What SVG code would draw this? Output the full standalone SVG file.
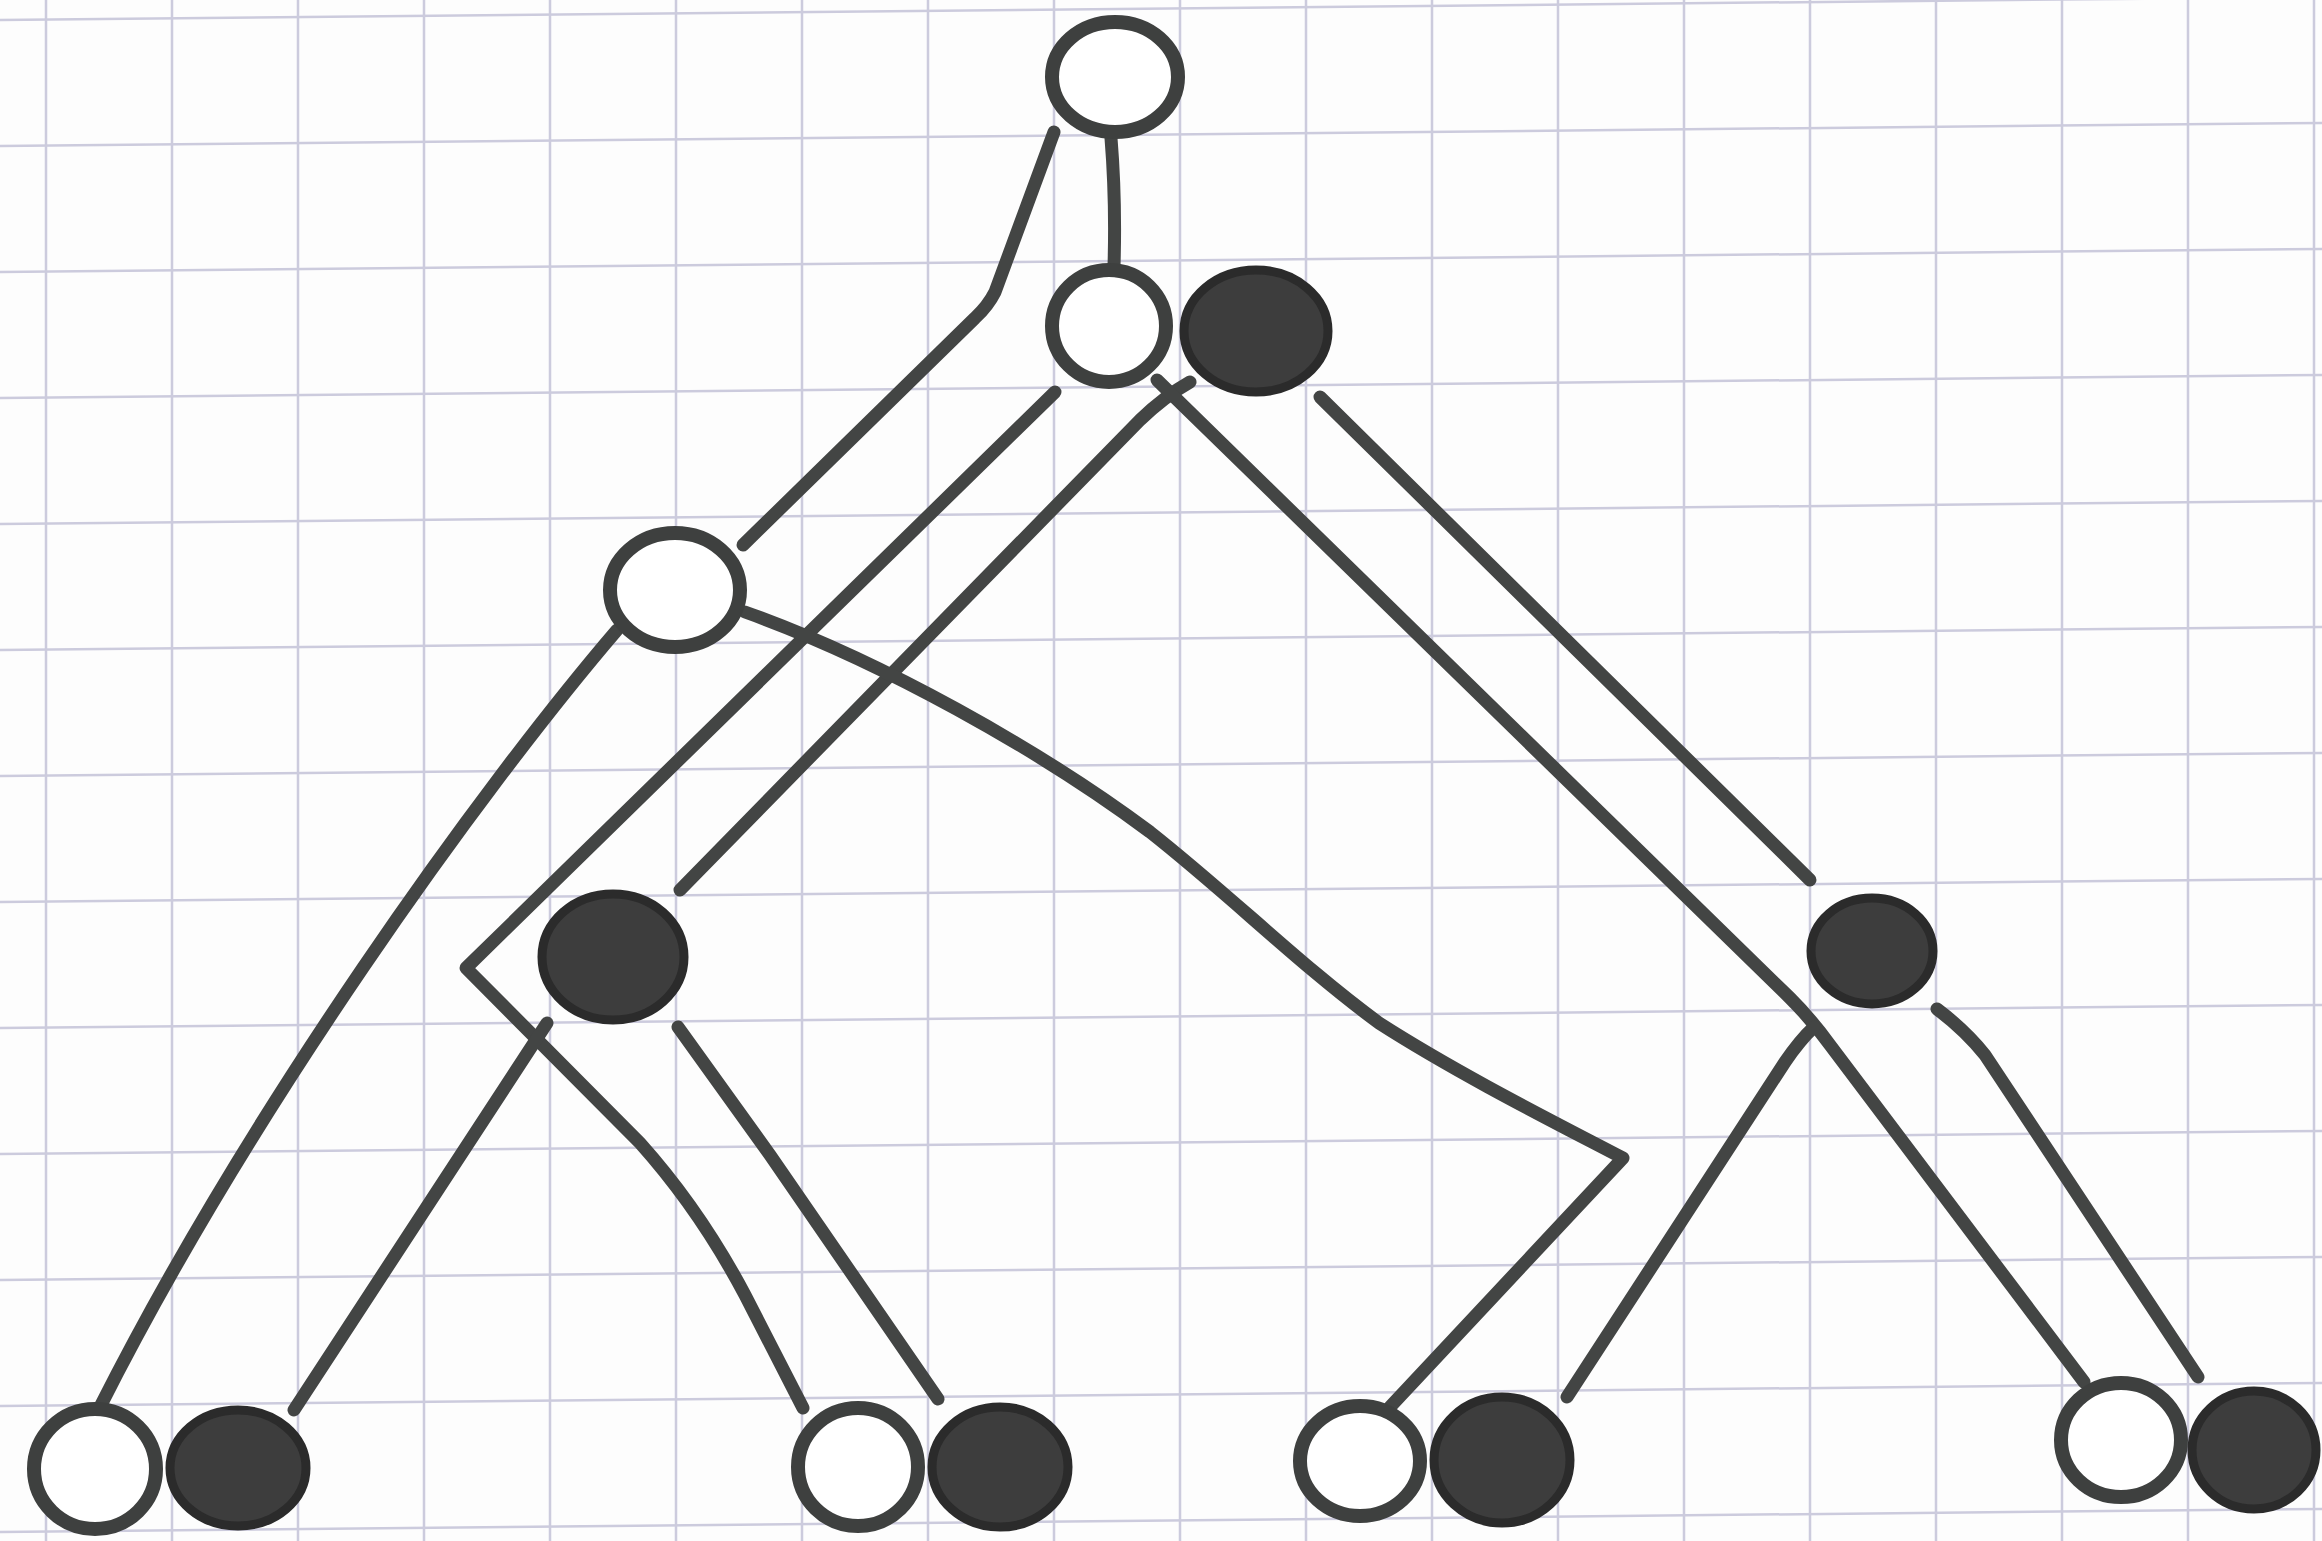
<svg xmlns="http://www.w3.org/2000/svg" width="2322" height="1541" viewBox="0 0 2322 1541">
<style>
.grid line{stroke:#cccbdd;stroke-width:2.5}
.edge{fill:none;stroke:#434544;stroke-width:13;stroke-linecap:round;stroke-linejoin:round}
.w{fill:#ffffff;stroke:#3e403f;stroke-width:14}
.b{fill:#3d3d3d;stroke:#2b2b2b;stroke-width:9}
</style>
<rect x="0" y="0" width="2322" height="1541" fill="#fdfdfd"/>
<g class="grid">
<line x1="46" y1="0" x2="46" y2="1541"/><line x1="172" y1="0" x2="172" y2="1541"/><line x1="298" y1="0" x2="298" y2="1541"/><line x1="424" y1="0" x2="424" y2="1541"/><line x1="550" y1="0" x2="550" y2="1541"/><line x1="676" y1="0" x2="676" y2="1541"/><line x1="802" y1="0" x2="802" y2="1541"/><line x1="928" y1="0" x2="928" y2="1541"/><line x1="1054" y1="0" x2="1054" y2="1541"/><line x1="1180" y1="0" x2="1180" y2="1541"/><line x1="1306" y1="0" x2="1306" y2="1541"/><line x1="1432" y1="0" x2="1432" y2="1541"/><line x1="1558" y1="0" x2="1558" y2="1541"/><line x1="1684" y1="0" x2="1684" y2="1541"/><line x1="1810" y1="0" x2="1810" y2="1541"/><line x1="1936" y1="0" x2="1936" y2="1541"/><line x1="2062" y1="0" x2="2062" y2="1541"/><line x1="2188" y1="0" x2="2188" y2="1541"/><line x1="2314" y1="0" x2="2314" y2="1541"/>
<line x1="0" y1="20" x2="2322" y2="-3"/><line x1="0" y1="146" x2="2322" y2="123"/><line x1="0" y1="272" x2="2322" y2="249"/><line x1="0" y1="398" x2="2322" y2="375"/><line x1="0" y1="524" x2="2322" y2="501"/><line x1="0" y1="650" x2="2322" y2="627"/><line x1="0" y1="776" x2="2322" y2="753"/><line x1="0" y1="902" x2="2322" y2="879"/><line x1="0" y1="1028" x2="2322" y2="1005"/><line x1="0" y1="1154" x2="2322" y2="1131"/><line x1="0" y1="1280" x2="2322" y2="1257"/><line x1="0" y1="1406" x2="2322" y2="1383"/><line x1="0" y1="1532" x2="2322" y2="1509"/>
</g>
<g id="connectors">
<path class="edge" d="M1054,132 L995,292 Q988,306 975,318 L743,545"/>
<path class="edge" d="M1111,138 Q1116,200 1114,266"/>
<path class="edge" d="M1055,392 L466,968 L640,1143 Q700,1210 745,1295 L803,1408"/>
<path class="edge" d="M1190,382 Q1165,396 1140,420 L680,890"/>
<path class="edge" d="M1157,380 L1790,998 Q1812,1020 1830,1045 L2084,1382"/>
<path class="edge" d="M1320,397 L1810,880"/>
<path class="edge" d="M617,630 C480,790 250,1110 100,1407"/>
<path class="edge" d="M745,612 C880,660 1040,750 1150,832 C1230,895 1300,965 1379,1023 C1460,1075 1560,1125 1623,1158 L1390,1407"/>
<path class="edge" d="M547,1023 L294,1410"/>
<path class="edge" d="M678,1027 L770,1155 L938,1399"/>
<path class="edge" d="M1814,1027 Q1800,1040 1785,1062 L1567,1397"/>
<path class="edge" d="M1937,1009 Q1965,1030 1985,1055 L2198,1377"/>
</g>
<g id="n_top"><ellipse class="w" cx="1115" cy="77" rx="63" ry="55"/></g>
<g id="n_w2"><ellipse class="w" cx="1109" cy="326" rx="57" ry="56"/></g>
<g id="n_b2"><ellipse class="b" cx="1256" cy="331" rx="72" ry="61"/></g>
<g id="n_w3"><ellipse class="w" cx="675" cy="590" rx="65" ry="57"/></g>
<g id="n_b3"><ellipse class="b" cx="613" cy="957" rx="71" ry="63"/></g>
<g id="n_b4"><ellipse class="b" cx="1872" cy="951" rx="61" ry="53"/></g>
<g id="n_w5"><ellipse class="w" cx="95" cy="1469" rx="61" ry="60"/></g>
<g id="n_b5"><ellipse class="b" cx="238" cy="1468" rx="68" ry="58"/></g>
<g id="n_w6"><ellipse class="w" cx="858" cy="1467" rx="60" ry="59"/></g>
<g id="n_b6"><ellipse class="b" cx="1000" cy="1467" rx="68" ry="60"/></g>
<g id="n_w7"><ellipse class="w" cx="1360" cy="1461" rx="60" ry="55"/></g>
<g id="n_b7"><ellipse class="b" cx="1502" cy="1460" rx="68" ry="63"/></g>
<g id="n_w8"><ellipse class="w" cx="2121" cy="1440" rx="60" ry="57"/></g>
<g id="n_b8"><ellipse class="b" cx="2254" cy="1450" rx="62" ry="59"/></g>
</svg>
